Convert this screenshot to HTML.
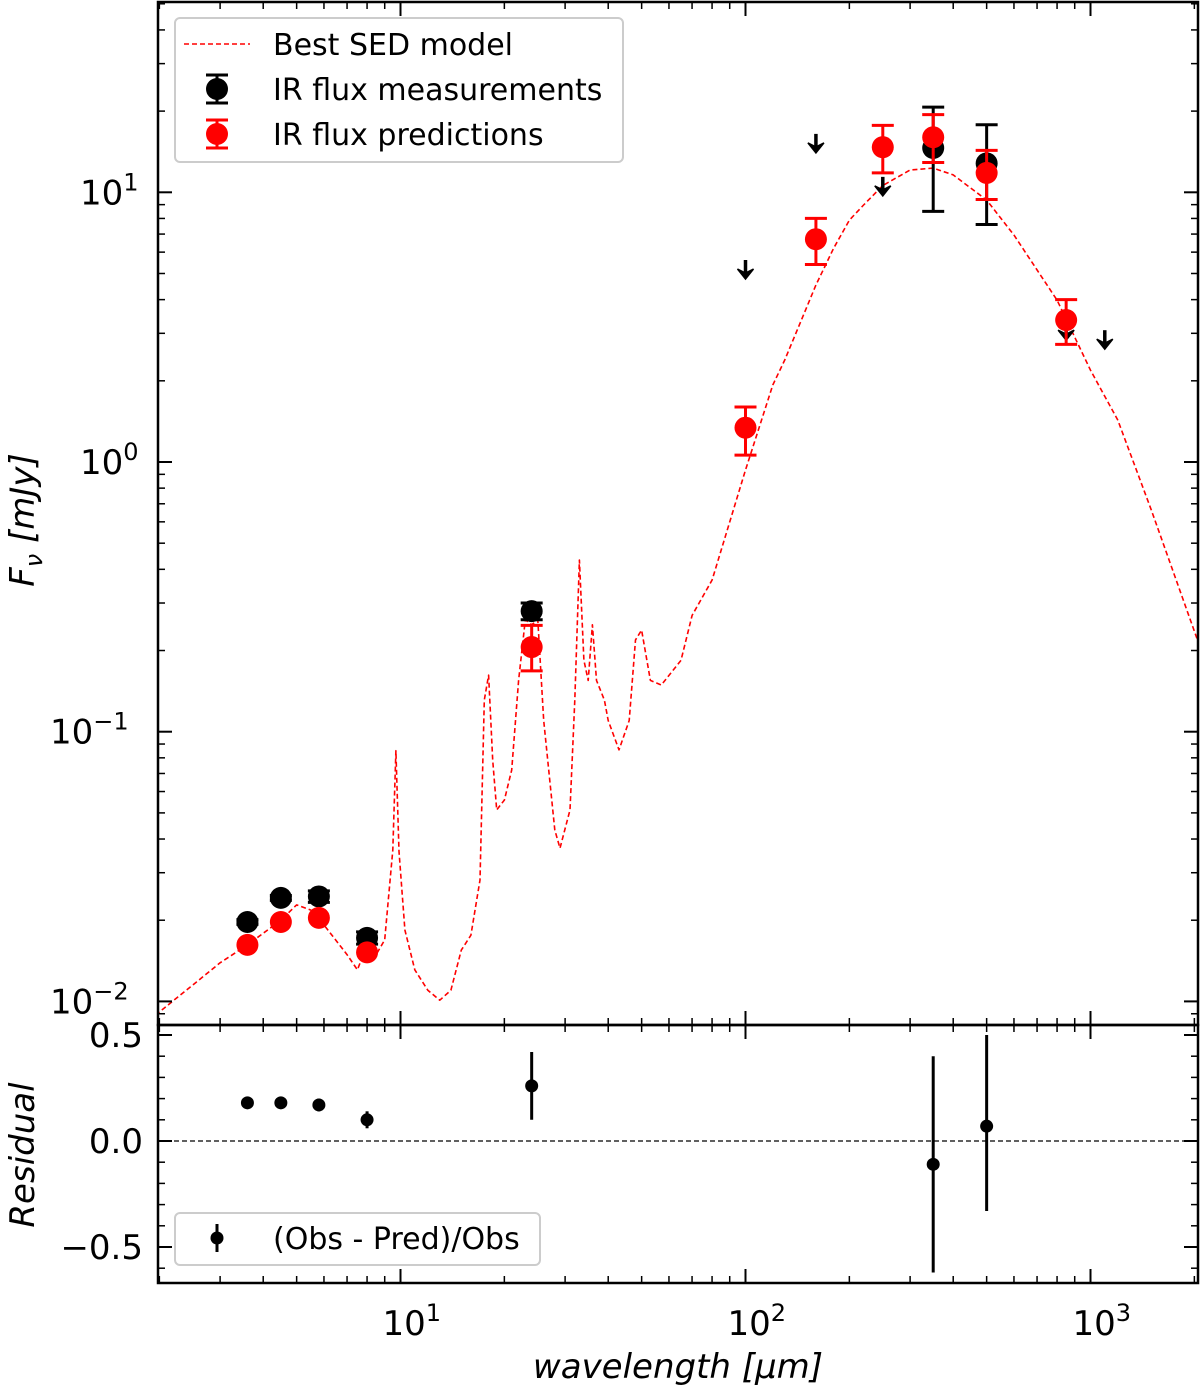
<!DOCTYPE html>
<html><head><meta charset="utf-8"><style>
body{margin:0;background:#fff}
svg{display:block;font-family:"DejaVu Sans","Liberation Sans",sans-serif}
</style></head><body>
<svg id="chart" width="1200" height="1390" viewBox="0 0 1200 1390" xmlns="http://www.w3.org/2000/svg"></svg>
<script>
// ---- data ----
const modelWave = [1.95,2.5,3,3.6,4.5,5,5.5,6,7,7.5,8,8.5,9,9.5,9.7,9.9,10.3,11,12,13,14,15,16,17,17.5,18,18.5,19,20,21,22,23,24,25,26,28,29,31,32,33,34,35,36,37,39,40,43,46,48,50,53,57,65,70,80,100,120,130,160,180,200,220,250,300,350,400,500,600,700,800,1000,1200,1500,2090];
const modelFlux = [0.0089,0.0115,0.0139,0.0162,0.020,0.0228,0.0218,0.0192,0.0149,0.0131,0.0162,0.0149,0.0169,0.0364,0.085,0.036,0.0184,0.0131,0.011,0.0101,0.011,0.0155,0.0176,0.0282,0.131,0.162,0.0785,0.0513,0.0558,0.0721,0.155,0.26,0.249,0.26,0.110,0.0432,0.037,0.0513,0.131,0.433,0.184,0.155,0.249,0.155,0.131,0.110,0.0856,0.110,0.219,0.238,0.155,0.149,0.184,0.27,0.365,0.934,1.93,2.39,4.53,6.2,7.89,8.97,10.6,12.1,12.3,11.6,9.36,6.94,5.15,3.98,2.19,1.43,0.664,0.201];
const obsWave = [3.6,4.5,5.8,8.0,24,350,500];
const obsFlux = [0.0197,0.0242,0.0245,0.0172,0.28,14.6,12.8];
const obsLo = [0.0193,0.0237,0.0233,0.0163,0.26,8.5,7.6];
const obsHi = [0.0201,0.0247,0.0257,0.0181,0.30,20.7,17.8];
const ulWave = [100,160,250,850,1100];
const ulFlux = [4.77,14.0,9.7,2.83,2.62];
const predWave = [3.6,4.5,5.8,8.0,24,100,160,250,350,500,850];
const predFlux = [0.0162,0.0197,0.0204,0.0152,0.206,1.34,6.7,14.7,16.0,11.8,3.36];
const predLo = [0.0162,0.0197,0.0204,0.0152,0.168,1.06,5.4,11.8,12.9,9.4,2.73];
const predHi = [0.0162,0.0197,0.0204,0.0152,0.248,1.60,8.0,17.7,19.4,14.3,4.0];
const resWave = [3.6,4.5,5.8,8.0,24,350,500];
const resVal = [0.18,0.18,0.17,0.10,0.26,-0.11,0.07];
const resLo = [0.18,0.18,0.14,0.06,0.10,-0.62,-0.33];
const resHi = [0.18,0.18,0.20,0.14,0.42,0.40,0.50];
const xTickLabels = ["1","2","3"];
const yTickLabels = ["1","0","−1","−2"];
const resTickLabels = ["0.5","0.0","−0.5"];

// ---- scales ----
const L=158,R=1198,T=2,B=1025,RB=1283;
const X=w=>400.5+(Math.log10(w)-1)*345;
const Y=v=>462-Math.log10(v)*269.7;
const RY=r=>1141-r*212;
const svg=document.getElementById('chart');
const NS='http://www.w3.org/2000/svg';
function mk(tag,attrs,parent){const e=document.createElementNS(NS,tag);for(const k in attrs)e.setAttribute(k,attrs[k]);(parent||svg).appendChild(e);return e;}

const defs=mk('defs',{});
const cp=mk('clipPath',{id:'mainclip'},defs);mk('rect',{x:L,y:T,width:R-L,height:B-T},cp);
const cp2=mk('clipPath',{id:'resclip'},defs);mk('rect',{x:L,y:B,width:R-L,height:RB-B},cp2);

let d='';modelWave.forEach((w,i)=>{d+=(i?'L':'M')+X(w).toFixed(1)+','+Y(modelFlux[i]).toFixed(1);});
const model=mk('path',{d:d,fill:'none',stroke:'#f00','stroke-width':1.6,'stroke-dasharray':'5,3','stroke-linejoin':'round','clip-path':'url(#mainclip)'});



function errbar(x,y1,y2,color,cap,name){
  const g=mk('g',{});
  
  
  mk('line',{x1:x,x2:x,y1:y1,y2:y2,stroke:color,'stroke-width':3},g);
  if(cap){mk('line',{x1:x-11,x2:x+11,y1:y1,y2:y1,stroke:color,'stroke-width':3},g);
  mk('line',{x1:x-11,x2:x+11,y1:y2,y2:y2,stroke:color,'stroke-width':3},g);}
  return g;
}
obsWave.forEach((w,i)=>{
  errbar(X(w),Y(obsHi[i]),Y(obsLo[i]),'#000',true,'obs-errorbar');
  const c=mk('circle',{cx:X(w),cy:Y(obsFlux[i]),r:11,fill:'#000'});
  
  
});
ulWave.forEach((w,i)=>{
  const x=X(w),y=Y(ulFlux[i]);
  const g=mk('g',{});
  
  
  mk('line',{x1:x,x2:x,y1:y-19,y2:y-5,stroke:'#000','stroke-width':3.5},g);
  mk('path',{d:`M${x-8},${y-10}L${x},${y}L${x+8},${y-10}L${x},${y-6}Z`,fill:'#000',stroke:'#000','stroke-width':1.5},g);
});
predWave.forEach((w,i)=>{
  if(predHi[i]!==predLo[i]) errbar(X(w),Y(predHi[i]),Y(predLo[i]),'#f00',true,'pred-errorbar');
  const c=mk('circle',{cx:X(w),cy:Y(predFlux[i]),r:11,fill:'#f00'});
  
  
});
const zl=mk('line',{x1:L,x2:R,y1:RY(0),y2:RY(0),stroke:'#000','stroke-width':1.3,'stroke-dasharray':'5,3'});


resWave.forEach((w,i)=>{
  const g=mk('g',{'clip-path':'url(#resclip)'});
  
  
  mk('line',{x1:X(w),x2:X(w),y1:RY(resHi[i]),y2:RY(resLo[i]),stroke:'#000','stroke-width':3},g);
  mk('circle',{cx:X(w),cy:RY(resVal[i]),r:6.5,fill:'#000'},g);
});

const tk=mk('g',{stroke:'#000'});


for(let e=0;e<=3;e++)for(let m=1;m<10;m++){
  const w=m*Math.pow(10,e);const x=X(w);if(x<L||x>R)continue;
  const len=m===1?14:7;
  [[T,1],[B,-1],[B,1],[RB,-1]].forEach(([y,s])=>mk('line',{x1:x,x2:x,y1:y,y2:y+s*len,'stroke-width':m===1?2:1.5},tk));
}
for(let e=-3;e<=2;e++)for(let m=1;m<10;m++){
  const v=m*Math.pow(10,e);const y=Y(v);if(y<T||y>B)continue;
  const len=m===1?14:7;
  mk('line',{x1:L,x2:L+len,y1:y,y2:y,'stroke-width':m===1?2:1.5},tk);
  mk('line',{x1:R,x2:R-len,y1:y,y2:y,'stroke-width':m===1?2:1.5},tk);
}
for(let k=-6;k<=5;k++){
  const r=k/10;const y=RY(r);if(y<B||y>RB)continue;
  const len=k%5===0?14:7;
  mk('line',{x1:L,x2:L+len,y1:y,y2:y,'stroke-width':k%5===0?2:1.5},tk);
  mk('line',{x1:R,x2:R-len,y1:y,y2:y,'stroke-width':k%5===0?2:1.5},tk);
}
const f1=mk('rect',{x:L,y:T,width:R-L,height:B-T,fill:'none',stroke:'#000','stroke-width':2.5});


const f2=mk('rect',{x:L,y:B,width:R-L,height:RB-B,fill:'none',stroke:'#000','stroke-width':2.5});



xTickLabels.forEach((s,i)=>{
  const t=mk('text',{x:X(Math.pow(10,i+1))-18,y:1335,'font-size':34});
  
  
  t.innerHTML='10<tspan dy="-14" font-size="24">'+s+'</tspan>';
});
yTickLabels.forEach((s,i)=>{
  const t=mk('text',{x:s.length>1?50:80,y:Y(Math.pow(10,1-i))+12,'font-size':34});
  
  
  t.innerHTML='10<tspan dy="-14" font-size="24">'+s+'</tspan>';
});
resTickLabels.forEach((s,i)=>{
  const t=mk('text',{x:143,y:RY(0.5-0.5*i)+12,'font-size':34,'text-anchor':'end'});
  
  
  t.textContent=s;
});
const xt=mk('text',{x:678,y:1378,'font-size':34,'text-anchor':'middle','font-style':'italic'});


xt.textContent='wavelength [µm]';
const yt=mk('text',{transform:'translate(34,520) rotate(-90)','font-size':34,'text-anchor':'middle','font-style':'italic'});


yt.innerHTML='F<tspan dy="8" font-size="24">ν</tspan><tspan dy="-8"> [mJy]</tspan>';
const rt=mk('text',{transform:'translate(34,1155) rotate(-90)','font-size':34,'text-anchor':'middle','font-style':'italic'});


rt.textContent='Residual';

const lg=mk('g',{});


mk('rect',{x:175,y:18,width:448,height:144,rx:5,fill:'#fff','fill-opacity':0.8,stroke:'#ccc','stroke-width':2},lg);
mk('line',{x1:184,x2:250,y1:44,y2:44,stroke:'#f00','stroke-width':1.6,'stroke-dasharray':'5,3'},lg);
mk('line',{x1:217,x2:217,y1:75,y2:103,stroke:'#000','stroke-width':3},lg);
mk('line',{x1:206,x2:228,y1:75,y2:75,stroke:'#000','stroke-width':3},lg);
mk('line',{x1:206,x2:228,y1:103,y2:103,stroke:'#000','stroke-width':3},lg);
mk('circle',{cx:217,cy:89,r:11,fill:'#000'},lg);
mk('line',{x1:217,x2:217,y1:120,y2:148,stroke:'#f00','stroke-width':3},lg);
mk('line',{x1:206,x2:228,y1:120,y2:120,stroke:'#f00','stroke-width':3},lg);
mk('line',{x1:206,x2:228,y1:148,y2:148,stroke:'#f00','stroke-width':3},lg);
mk('circle',{cx:217,cy:134,r:11,fill:'#f00'},lg);
[['Best SED model',55],['IR flux measurements',100],['IR flux predictions',145]].forEach(([s,y])=>{
  const t=mk('text',{x:273,y:y,'font-size':30},lg);
  
  
  t.textContent=s;
});
const lg2=mk('g',{});


mk('rect',{x:175,y:1213,width:365,height:52,rx:5,fill:'#fff','fill-opacity':0.8,stroke:'#ccc','stroke-width':2},lg2);
mk('line',{x1:217,x2:217,y1:1224,y2:1252,stroke:'#000','stroke-width':3},lg2);
mk('circle',{cx:217,cy:1238,r:6.5,fill:'#000'},lg2);
const t2=mk('text',{x:273,y:1249,'font-size':30},lg2);


t2.textContent='(Obs - Pred)/Obs';
</script>
</body></html>
